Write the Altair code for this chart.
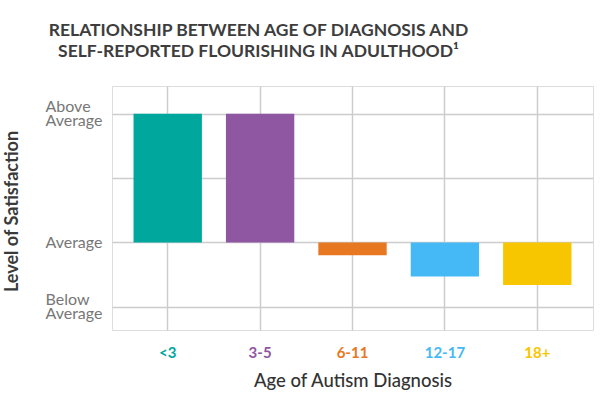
import altair as alt
import pandas as pd

# Age of autism diagnosis and the satisfaction level reported in adulthood
ages = ["<3", "3-5", "6-11", "12-17", "18+"]
satisfaction = [2.0, 2.0, -0.2, -0.53, -0.66]
bar_colors = ["#00A79D", "#8F57A2", "#E87722", "#45B9F6", "#F7C600"]

# Satisfaction scale: -1 below average, 0 average, 2 above average
level_ticks = [-1, 0, 1, 2]
level_labels = {2: ["Above", "Average"], 0: ["Average"], -1: ["Below", "Average"]}

title_lines = [
    "RELATIONSHIP BETWEEN AGE OF DIAGNOSIS AND",
    "SELF-REPORTED FLOURISHING IN ADULTHOOD\u00b9",
]

FONT = "Lato"
GRID = "#cccccc"
LABEL_LINE = 14

df = pd.DataFrame({"age": ages, "satisfaction": satisfaction})


def label_expr(labels):
    parts = []
    for value, lines in labels.items():
        arr = "[" + ",".join("'" + s + "'" for s in lines) + "]"
        parts.append(f"datum.value == {value} ? {arr} : ")
    return "".join(parts) + "''"


# two-line labels are lifted by half a line so the pair sits centred on its gridline
two_line = [v for v, lines in level_labels.items() if len(lines) > 1]
y_label_offset = {
    "condition": {
        "test": " || ".join(f"datum.value == {v}" for v in two_line),
        "value": -LABEL_LINE / 2,
    },
    "value": 0,
}

x_label_color = {
    "condition": [
        {"test": f"datum.value === '{a}'", "value": c} for a, c in zip(ages, bar_colors)
    ],
    "value": "#333333",
}

bars = (
    alt.Chart(df)
    .mark_bar()
    .encode(
        x=alt.X(
            "age:N",
            sort=ages,
            scale=alt.Scale(paddingInner=0.26, paddingOuter=0.233),
            axis=alt.Axis(
                title="Age of Autism Diagnosis",
                titleFont=FONT,
                titleFontSize=18.5,
                titleFontWeight=500,
                titleColor="#333333",
                titlePadding=11,
                labelFont=FONT,
                labelFontSize=15,
                labelFontWeight="bold",
                labelColor=x_label_color,
                labelPadding=15,
                labelAngle=0,
                ticks=False,
                domain=False,
                grid=True,
                gridColor=GRID,
                gridWidth=1.5,
                bandPosition=0.5,
            ),
        ),
        y=alt.Y(
            "satisfaction:Q",
            scale=alt.Scale(domain=[-1.36, 2.43], nice=False, zero=False),
            axis=alt.Axis(
                title="Level of Satisfaction",
                titleFont=FONT,
                titleFontSize=18,
                titleFontWeight="bold",
                titleColor="#3a3a3a",
                titleAngle=270,
                titleAlign="center",
                titleBaseline="middle",
                titleX=-100,
                titleY=125,
                values=level_ticks,
                labelExpr=label_expr(level_labels),
                labelFont=FONT,
                labelFontSize=16,
                labelColor="#777777",
                labelAlign="left",
                labelBaseline="middle",
                labelLineHeight=LABEL_LINE,
                labelOffset=y_label_offset,
                labelPadding=67,
                labelOverlap=False,
                ticks=False,
                domain=False,
                grid=True,
                gridColor=GRID,
                gridWidth=1.5,
            ),
        ),
        y2=alt.datum(0),
        color=alt.Color(
            "age:N",
            sort=ages,
            scale=alt.Scale(domain=ages, range=bar_colors),
            legend=None,
        ),
    )
)

chart = (
    bars.properties(
        width=481,
        height=244,
        autosize="none",
        padding={"left": 112, "top": 86, "right": 7, "bottom": 86},
        title=alt.TitleParams(
            title_lines,
            font=FONT,
            fontSize=17.5,
            fontWeight="bold",
            color="#3d3d3d",
            anchor="middle",
            dx=-94,
            offset=26,
            lineHeight=20.5,
        ),
    )
    .configure_view(stroke=None)
    .configure(background="white")
)

chart.save("out.html", embed_options={"renderer": "svg", "actions": False})
